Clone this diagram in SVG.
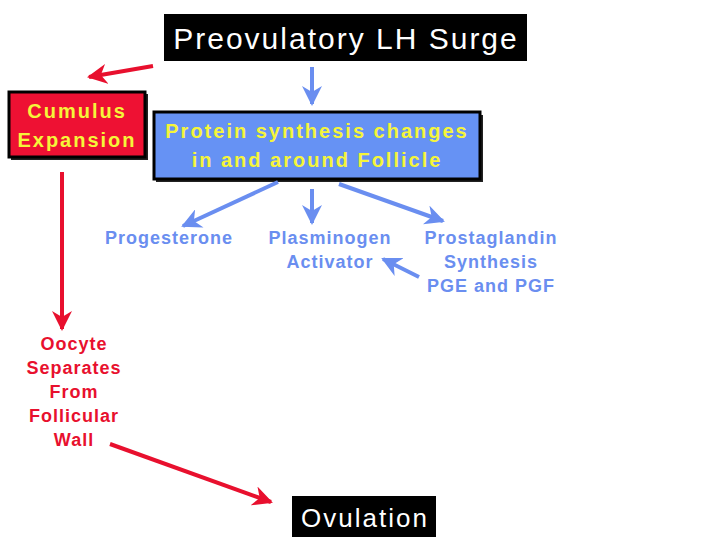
<svg xmlns="http://www.w3.org/2000/svg" width="720" height="540" viewBox="0 0 720 540">
<defs>
<style>
text{font-family:"Liberation Sans",Arial,sans-serif;font-weight:bold;text-anchor:middle}
.w{fill:#ffffff;font-weight:normal;letter-spacing:2px}
.y{fill:#f5f53a;font-size:20px;letter-spacing:2px}
.b{fill:#6a8ef0;font-size:18px;letter-spacing:1px}
.r{fill:#e8102e;font-size:18px;letter-spacing:1px}
.red{stroke:#e8102e;stroke-width:4;fill:none}
.blue{stroke:#6a8ef0;stroke-width:4;fill:none}
</style>
<marker id="ar" viewBox="0 0 10 10" refX="9" refY="5" markerWidth="5" markerHeight="5" orient="auto" markerUnits="strokeWidth">
<path d="M0,0 L10,5 L0,10 L3,5 Z" fill="#e8102e"/>
</marker>
<marker id="ab" viewBox="0 0 10 10" refX="9" refY="5" markerWidth="5" markerHeight="5" orient="auto" markerUnits="strokeWidth">
<path d="M0,0 L10,5 L0,10 L3,5 Z" fill="#6a8ef0"/>
</marker>
</defs>
<rect width="720" height="540" fill="#ffffff"/>
<g id="lh">
<rect x="164" y="14" width="363" height="47" fill="#000"/>
<text x="346" y="49" class="w" font-size="30">Preovulatory LH Surge</text>
</g>
<g id="cumulus">
<rect x="11" y="94" width="137" height="66" fill="#222"/>
<rect x="9" y="92" width="136" height="65" fill="#ee1133" stroke="#000" stroke-width="3"/>
<text x="77" y="118" class="y">Cumulus</text>
<text x="77" y="147" class="y">Expansion</text>
</g>
<g id="protein">
<rect x="156" y="115" width="327" height="67" fill="#222"/>
<rect x="154" y="112" width="326" height="67" fill="#6692f4" stroke="#000" stroke-width="3"/>
<text x="317" y="138" class="y">Protein synthesis changes</text>
<text x="317" y="167" class="y">in and around Follicle</text>
</g>
<g id="progesterone"><text x="169" y="244" class="b">Progesterone</text></g>
<g id="plasminogen">
<text x="330" y="244" class="b">Plasminogen</text>
<text x="330" y="268" class="b">Activator</text>
</g>
<g id="prostaglandin">
<text x="491" y="244" class="b">Prostaglandin</text>
<text x="491" y="268" class="b">Synthesis</text>
<text x="491" y="292" class="b">PGE and PGF</text>
</g>
<g id="oocyte">
<text x="74" y="350" class="r">Oocyte</text>
<text x="74" y="374" class="r">Separates</text>
<text x="74" y="398" class="r">From</text>
<text x="74" y="422" class="r">Follicular</text>
<text x="74" y="446" class="r">Wall</text>
</g>
<g id="ovulation">
<rect x="292" y="496" width="144" height="41" fill="#000"/>
<text x="365" y="527" class="w" font-size="26">Ovulation</text>
</g>
<g id="connectors">
<line x1="153" y1="66" x2="89" y2="77" class="red" marker-end="url(#ar)"/>
<line x1="312" y1="67" x2="312" y2="104" class="blue" marker-end="url(#ab)"/>
<line x1="278" y1="182" x2="183" y2="226" class="blue" marker-end="url(#ab)"/>
<line x1="312" y1="189" x2="312" y2="223" class="blue" marker-end="url(#ab)"/>
<line x1="339" y1="184" x2="443" y2="221" class="blue" marker-end="url(#ab)"/>
<line x1="419" y1="277" x2="383" y2="259" class="blue" marker-end="url(#ab)"/>
<line x1="62" y1="172" x2="62" y2="329" class="red" marker-end="url(#ar)"/>
<line x1="110" y1="444" x2="271" y2="502" class="red" marker-end="url(#ar)"/>
</g>
</svg>
